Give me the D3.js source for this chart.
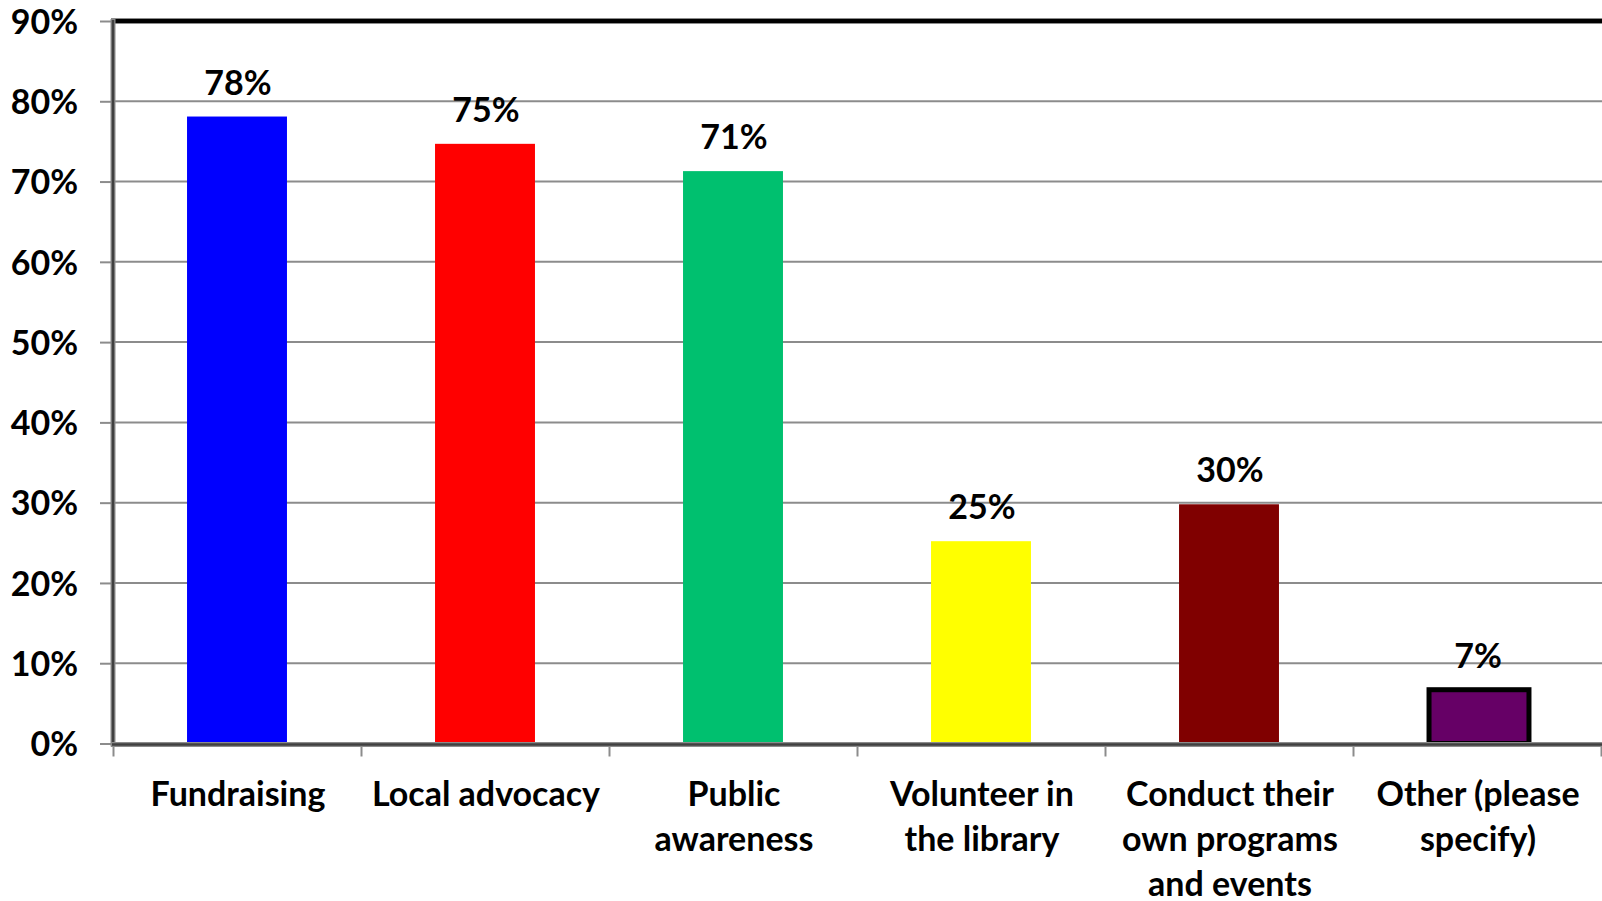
<!DOCTYPE html>
<html>
<head>
<meta charset="utf-8">
<script src="https://cdn.jsdelivr.net/npm/d3@7/dist/d3.min.js"></script>
<style>
  html, body { margin: 0; padding: 0; background: #fff; }
  svg { display: block; }
  text { font-family: Lato, "Open Sans", sans-serif; font-weight: bold; fill: #000; }
</style>
</head>
<body>
<svg id="chart" width="1602" height="901"></svg>
<script>
const categories = ["Fundraising", "Local advocacy", "Public\nawareness", "Volunteer in\nthe library", "Conduct their\nown programs\nand events", "Other (please\nspecify)"];
const values = [78.1, 74.7, 71.3, 25.2, 29.8, 6.7];
const valueLabels = ["78%", "75%", "71%", "25%", "30%", "7%"];
const colors = ["#0000FF", "#FF0000", "#00C06F", "#FFFF00", "#800000", "#660066"];
const yTicks = [0, 10, 20, 30, 40, 50, 60, 70, 80, 90];

(function () {
const svg = d3.select("#chart");
const pLeft = 113, pRight = 1601, pTop = 21, pBottom = 743.5;

const x = d3.scaleBand().domain(categories).range([pLeft, pRight]).paddingInner(0.597).paddingOuter(0.2985);
const y = d3.scaleLinear().domain([0, 90]).range([pBottom, pTop]);

// gridlines
svg.append("g").selectAll("line").data(yTicks.filter(d => d > 0 && d < 90)).join("line")
  .attr("x1", pLeft).attr("x2", pRight + 1)
  .attr("y1", d => y(d)).attr("y2", d => y(d))
  .attr("stroke", "#8c8c8c").attr("stroke-width", 2);

// y axis ticks + labels
const yAxis = svg.append("g").attr("transform", `translate(${pLeft},0)`)
  .call(d3.axisLeft(y).tickValues(yTicks).tickSize(13).tickFormat(d => d + "%"));
yAxis.select(".domain").remove();
yAxis.selectAll(".tick line").attr("stroke", "#8c8c8c").attr("stroke-width", 2);
yAxis.selectAll(".tick text").attr("x", -35).style("font-size", "34px").attr("dy", "0.36em");

// bars
svg.append("g").selectAll("rect").data(values).join("rect")
  .attr("x", (d, i) => x(categories[i]) + (i === 5 ? 2 : 0))
  .attr("width", x.bandwidth())
  .attr("y", d => y(d))
  .attr("height", d => pBottom - y(d))
  .attr("fill", (d, i) => colors[i])
  .attr("stroke", (d, i) => i === 5 ? "#000" : "none")
  .attr("stroke-width", 5);

// value labels
svg.append("g").selectAll("text").data(values).join("text")
  .attr("x", (d, i) => x(categories[i]) + x.bandwidth() / 2 + 1)
  .attr("y", d => y(d) - 22)
  .attr("text-anchor", "middle")
  .style("font-size", "34px")
  .text((d, i) => valueLabels[i]);

// top border
svg.append("line").attr("x1", pLeft - 2).attr("x2", pRight + 1).attr("y1", pTop).attr("y2", pTop)
  .attr("stroke", "#8c8c8c").attr("stroke-width", 6);
svg.append("line").attr("x1", pLeft - 1).attr("x2", pRight + 1).attr("y1", pTop).attr("y2", pTop)
  .attr("stroke", "#000").attr("stroke-width", 4);

// x axis ticks
const xTickScale = d3.scaleLinear().domain([0, categories.length]).range([pLeft, pRight]);
const xg = svg.append("g").attr("transform", `translate(0,${pBottom})`)
  .call(d3.axisBottom(xTickScale).tickValues(d3.range(0, categories.length + 1)).tickSize(13).tickFormat(""));
xg.select(".domain").remove();
xg.selectAll(".tick line").attr("stroke", "#8c8c8c").attr("stroke-width", 2);

// left axis line
svg.append("line").attr("x1", pLeft).attr("x2", pLeft).attr("y1", pTop - 2).attr("y2", pBottom + 3)
  .attr("stroke", "#8c8c8c").attr("stroke-width", 5);
svg.append("line").attr("x1", pLeft).attr("x2", pLeft).attr("y1", pTop - 1).attr("y2", pBottom + 2)
  .attr("stroke", "#404040").attr("stroke-width", 2.5);
// bottom axis line
svg.append("line").attr("x1", pLeft - 2).attr("x2", pRight + 1).attr("y1", pBottom + 1).attr("y2", pBottom + 1)
  .attr("stroke", "#8c8c8c").attr("stroke-width", 5);
svg.append("line").attr("x1", pLeft - 1).attr("x2", pRight + 1).attr("y1", pBottom + 1).attr("y2", pBottom + 1)
  .attr("stroke", "#404040").attr("stroke-width", 2.5);

// category labels
const cl = svg.append("g").selectAll("text").data(categories).join("text")
  .attr("text-anchor", "middle")
  .style("font-size", "34px")
  .attr("x", d => x(d) + x.bandwidth() / 2 + 1)
  .attr("y", 806);
cl.selectAll("tspan").data(d => d.split("\n")).join("tspan")
  .attr("x", function () { return this.parentNode.getAttribute("x"); })
  .attr("dy", (d, i) => i === 0 ? 0 : 45)
  .text(d => d);
})();
</script>
</body>
</html>
